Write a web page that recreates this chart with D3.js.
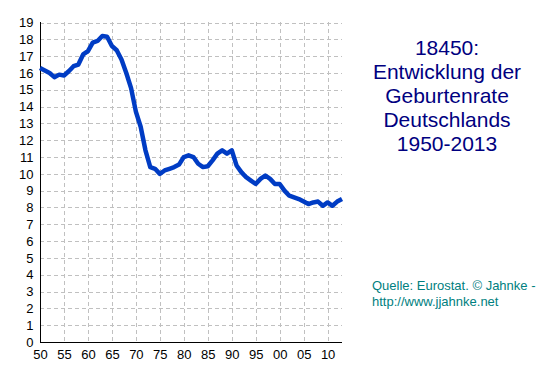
<!DOCTYPE html>
<meta charset="utf-8">
<style>

body {
  margin: 0;
  background: #fff;
}

.grid line {
  stroke: #c0c0c0;
  stroke-dasharray: 4,3;
  shape-rendering: crispEdges;
}

.axis text {
  font: 13px Arial, "Liberation Sans", sans-serif;
  fill: #000;
}

</style>
<body>
<script src="https://cdn.jsdelivr.net/npm/d3@7"></script>
<script>

var years = d3.range(1950, 2014);

// Lebendgeborene je 1000 Einwohner
var rates = [
  16.3, 16.15, 16.0, 15.75, 15.9, 15.85, 16.1, 16.4, 16.5, 17.1,
  17.3, 17.8, 17.9, 18.2, 18.15, 17.6, 17.35, 16.8, 16.0, 15.1,
  13.7, 12.8, 11.4, 10.4, 10.3, 10.0, 10.2, 10.3, 10.4, 10.55,
  11.0, 11.1, 11.0, 10.6, 10.4, 10.45, 10.8, 11.2, 11.4, 11.2,
  11.4, 10.5, 10.1, 9.8, 9.6, 9.4, 9.7, 9.9, 9.7, 9.4,
  9.4, 9.0, 8.7, 8.6, 8.5, 8.35, 8.2, 8.3, 8.35, 8.1,
  8.3, 8.1, 8.35, 8.5
];

var xTicks = [1950, 1955, 1960, 1965, 1970, 1975, 1980, 1985, 1990, 1995, 2000, 2005, 2010];
var yTicks = d3.range(0, 20);

var titleLines = ["18450:", "Entwicklung der", "Geburtenrate", "Deutschlands", "1950-2013"];
var sourceLines = ["Quelle: Eurostat. \u00a9 Jahnke -", "http://www.jjahnke.net"];

var w = 553,
    h = 376;

var x = d3.scaleLinear().domain([1950, 2013]).range([40, 342]);
var y = d3.scaleLinear().domain([0, 19]).range([342, 22.5]);

var svg = d3.select("body").append("svg")
    .attr("width", w)
    .attr("height", h);

var grid = svg.append("g").attr("class", "grid");

grid.selectAll(".h")
    .data(yTicks.slice(1))
  .enter().append("line")
    .attr("x1", 40)
    .attr("x2", 342)
    .attr("y1", function(d) { return Math.round(y(d)) + 0.5; })
    .attr("y2", function(d) { return Math.round(y(d)) + 0.5; });

grid.selectAll(".v")
    .data(xTicks.slice(1))
  .enter().append("line")
    .attr("x1", function(d) { return Math.round(x(d)) + 0.5; })
    .attr("x2", function(d) { return Math.round(x(d)) + 0.5; })
    .attr("y1", 22)
    .attr("y2", 342);

var yAxis = d3.axisLeft(y)
    .tickValues(yTicks)
    .tickSize(0)
    .tickPadding(7)
    .tickFormat(d3.format("d"));

var xAxis = d3.axisBottom(x)
    .tickValues(xTicks)
    .tickSize(0)
    .tickPadding(7)
    .tickFormat(function(d) { return String(d % 100).padStart(2, "0"); });

svg.append("g")
    .attr("class", "axis")
    .attr("transform", "translate(40.5,0)")
    .call(yAxis)
    .call(function(g) { g.select(".domain").attr("stroke", "#000").attr("d", "M0,22V342.5"); });

svg.append("g")
    .attr("class", "axis")
    .attr("transform", "translate(0,342.5)")
    .call(xAxis)
    .call(function(g) { g.select(".domain").attr("stroke", "#000").attr("d", "M40,0H342"); });

var line = d3.line()
    .x(function(d, i) { return x(years[i]); })
    .y(function(d) { return y(d); });

svg.append("path")
    .datum(rates)
    .attr("d", line)
    .attr("fill", "none")
    .attr("stroke", "#003cc4")
    .attr("stroke-width", 4.5)
    .attr("stroke-linejoin", "round");

svg.append("g")
  .selectAll("text")
    .data(titleLines)
  .enter().append("text")
    .attr("x", 447)
    .attr("y", function(d, i) { return 55 + i * 24; })
    .attr("text-anchor", "middle")
    .style("font", "21px Arial, 'Liberation Sans', sans-serif")
    .style("fill", "#000080")
    .text(function(d) { return d; });

svg.append("g")
  .selectAll("text")
    .data(sourceLines)
  .enter().append("text")
    .attr("x", 372)
    .attr("y", function(d, i) { return 290 + i * 16; })
    .style("font", "13px Arial, 'Liberation Sans', sans-serif")
    .style("fill", "#008080")
    .text(function(d) { return d; });

</script>
